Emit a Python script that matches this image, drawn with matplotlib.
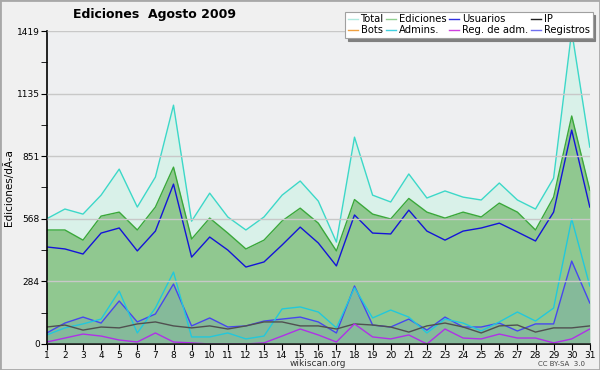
"""
Ediciones Agosto 2009 (wikiscan) - Nachbau als PNG.
"""
import numpy as np
import matplotlib
matplotlib.use("Agg")
import matplotlib.pyplot as plt
from matplotlib.lines import Line2D
from matplotlib.patches import Rectangle

dias = list(range(1, 32))
total = [568, 612, 589, 675, 793, 621, 757, 1083, 557, 684, 576, 517, 576, 675, 739,
         648, 462, 938, 675, 644, 771, 662, 694, 666, 653, 730, 653, 612, 752, 1419, 893]
ediciones = [517, 517, 471, 580, 598, 517, 621, 802, 476, 571, 503, 431, 471, 558, 616,
             548, 422, 655, 589, 567, 660, 598, 571, 598, 576, 639, 598, 517, 666, 1034, 698]
usuarios = [440, 431, 408, 503, 526, 422, 512, 725, 394, 485, 426, 349, 372, 449, 530,
            458, 354, 585, 503, 499, 607, 512, 471, 512, 526, 548, 508, 467, 598, 970, 621]
registros = [50, 95, 122, 95, 195, 100, 136, 272, 82, 118, 77, 82, 104, 113, 122,
             100, 50, 263, 86, 77, 113, 63, 122, 77, 77, 95, 59, 91, 91, 376, 186]
admins = [41, 73, 91, 113, 240, 50, 163, 326, 32, 32, 50, 23, 36, 159, 168,
          145, 73, 255, 118, 154, 122, 50, 113, 95, 59, 100, 145, 104, 163, 567, 263]
ip = [77, 86, 63, 77, 73, 91, 100, 82, 73, 82, 68, 82, 100, 100, 82,
      82, 68, 91, 86, 77, 54, 82, 95, 77, 50, 82, 86, 54, 73, 73, 82]
reg_adm = [9, 27, 45, 36, 18, 9, 50, 9, 5, 0, 0, 0, 5, 36, 68,
           41, 9, 91, 32, 23, 41, 0, 68, 27, 23, 45, 27, 27, 5, 23, 68]
yticks = [0, 284, 568, 851, 1135, 1419]

fig = plt.figure(figsize=(6, 3.7), dpi=100, facecolor="#f0f0f0")
fig.patches.append(Rectangle((0, 0), 1, 1, transform=fig.transFigure, fill=False,
                             edgecolor="#a8a8a8", lw=2))
ax = fig.add_axes([0.078, 0.0703, 0.905, 0.8457])
ax.set_facecolor("#eeeff1")

ax.fill_between(dias, total, color="#d9f1e9", lw=0)
ax.plot(dias, total, color="#3cd8c8", lw=1)
ax.fill_between(dias, ediciones, color="#90c890", lw=0)
ax.plot(dias, ediciones, color="#3aa83a", lw=1)
ax.plot(dias, usuarios, color="#1414d8", lw=1)
ax.fill_between(dias, registros, color="#4a6ad8", alpha=0.15, lw=0)
ax.plot(dias, registros, color="#4646f0", lw=1)
ax.plot(dias, admins, color="#22c8dc", lw=1)
ax.plot(dias, ip, color="#505050", lw=1)
ax.plot(dias, reg_adm, color="#b030e8", lw=1)

ax.set_xlim(1, 31)
ax.set_ylim(0, 1419)
ax.set_xticks(dias)
ax.set_yticks(yticks)
ax.set_yticks([142, 426, 710, 993, 1277], minor=True)
ax.tick_params(axis="both", labelsize=6.5, length=4, color="black", pad=1)
ax.tick_params(axis="y", which="minor", length=4)
ax.grid(axis="y", color="#c8c8c8", lw=1)
ax.set_axisbelow(False)
for s in ["top", "right"]:
    ax.spines[s].set_visible(False)
ax.spines["left"].set_linewidth(1.2)
ax.spines["bottom"].set_linewidth(1.2)
ax.set_ylabel("Ediciones/dÃ-a", fontsize=7.5, labelpad=2)

fig.text(0.258, 0.962, "Ediciones  Agosto 2009", fontsize=9, fontweight="bold",
         ha="center", va="center")
fig.text(0.53, 0.006, "wikiscan.org", fontsize=6.5, ha="center", va="bottom", color="#333333")
fig.text(0.975, 0.008, "CC BY-SA  3.0", fontsize=5, ha="right", va="bottom", color="#444444")

etiquetas = ["Total", "Bots", "Ediciones", "Admins.", "Usuarios", "Reg. de adm.", "IP", "Registros"]
colores = ["#b0eae0", "#f0a040", "#90d090", "#40d0e0", "#3030e0", "#d040e0", "#202020", "#7070f0"]
handles = [Line2D([], [], color=c, lw=1) for c in colores]
leg = fig.legend(handles, etiquetas, ncol=4, loc="upper left", bbox_to_anchor=(0.575, 0.968),
                 fontsize=7.2, frameon=True, fancybox=False, shadow={"color": "#808080", "alpha": 1},
                 edgecolor="#a0a0a0", borderpad=0.25, labelspacing=0.1, handlelength=1.0,
                 handletextpad=0.3, columnspacing=0.25, borderaxespad=0)
leg.get_frame().set_linewidth(0.8)

fig.savefig("out.png", dpi=100, facecolor=fig.get_facecolor())
